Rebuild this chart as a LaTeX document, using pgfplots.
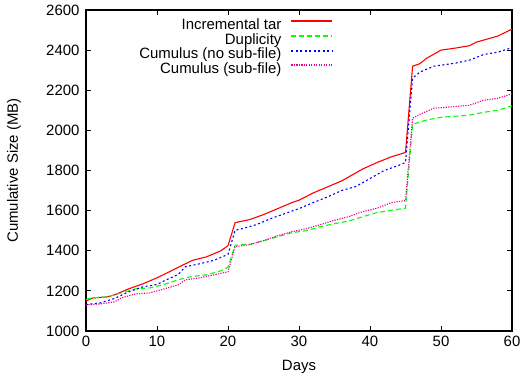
\documentclass[border=0pt]{standalone}
\usepackage{fontspec}
\setmainfont{Liberation Sans}
\usepackage{pgfplots}
\pgfplotsset{compat=1.18}
\begin{document}
\begin{tikzpicture}
\path[use as bounding box] (-86bp,-48bp) rectangle (437bp,331bp);
\begin{axis}[
  at={(0,0)}, anchor=south west,
  scale only axis, width=426bp, height=321bp,
  xmin=0, xmax=60, ymin=1000, ymax=2600,
  xtick={0,10,...,60}, ytick={1000,1200,...,2600},
  tick align=inside, major tick length=5bp,
  axis line style={line width=1.2pt},
  every tick/.style={black, line width=0.8pt},
  /pgf/number format/assume math mode=true,
  /pgf/number format/1000 sep={},
  tick label style={font=\fontsize{15}{15}\selectfont},
  label style={font=\fontsize{15}{15}\selectfont},
  xlabel={Days}, ylabel={Cumulative Size (MB)},
  xlabel style={at={(axis description cs:0.5,-0.112)}, anchor=center},
  ylabel style={at={(axis description cs:-0.169,0.5)}, anchor=center},
  xticklabel style={yshift=-2bp},
  yticklabel style={xshift=-3bp},
  legend style={at={(rel axis cs:0.581,0.972)}, anchor=north east, draw=none, fill=none,
     font=\fontsize{15}{15}\selectfont, inner sep=0pt,
     nodes={inner sep=0pt, text height=10.5pt, text depth=3pt},
     row sep=1.2pt, cells={anchor=east},
     /tikz/every odd column/.append style={column sep=9bp}},
  legend plot pos=right,
  legend image code/.code={\draw[#1, line width=1.9pt] (0bp,4.5bp) -- (41bp,4.5bp);},
  legend cell align=right,
]
\addplot[red, line width=1.1pt] coordinates {
(0,1150) (1,1165) (3,1170) (4,1180) (6,1210) (8,1235) (9,1250) (10,1265) (12,1300) (14,1335) (15,1352) (17,1370) (19,1400) (20,1425)
(21,1540) (23,1555) (25,1580) (27,1610) (29,1640) (30,1652) (32,1688) (34,1718) (36,1748) (37,1768) (39,1808) (41,1840) (43,1868) (45,1890)
(46,2320) (47,2332) (48,2360) (50,2400) (52,2410) (54,2422) (55,2440) (57,2460) (58,2470) (60,2505)};
\addlegendentry{Incremental tar}
\addplot[green, line width=1.1pt, dash pattern=on 5pt off 3pt] coordinates {
(0,1158) (1,1165) (3,1170) (5,1190) (6,1200) (7,1210) (9,1215) (11,1232) (13,1256) (15,1272) (17,1280) (19,1300) (20,1318)
(21,1428) (23,1432) (25,1450) (27,1470) (29,1490) (31,1500) (33,1520) (35,1535) (37,1548) (39,1570) (41,1590) (43,1602) (45,1612)
(46,2030) (48,2052) (50,2065) (54,2076) (56,2090) (58,2100) (60,2122)};
\addlegendentry{Duplicity}
\addplot[blue, line width=1.1pt, dash pattern=on 2pt off 2.5pt] coordinates {
(0,1132) (2,1140) (4,1162) (6,1195) (8,1220) (10,1232) (11,1250) (13,1282) (14,1320) (16,1335) (18,1352) (20,1382)
(21,1502) (22,1510) (24,1530) (26,1560) (28,1585) (30,1610) (32,1640) (34,1668) (36,1700) (38,1720) (40,1760) (42,1800) (44,1825) (45,1840)
(46,2260) (47,2290) (49,2320) (52,2335) (54,2350) (56,2378) (58,2390) (60,2412)};
\addlegendentry{Cumulus (no sub-file)}
\addplot[magenta, line width=1.1pt, dash pattern=on 1.2pt off 1.3pt] coordinates {
(0,1130) (2,1135) (4,1145) (5,1165) (7,1185) (9,1190) (11,1210) (13,1230) (14,1255) (16,1265) (18,1280) (20,1295)
(21,1420) (23,1430) (25,1450) (27,1475) (29,1495) (31,1510) (33,1530) (35,1552) (37,1570) (39,1595) (41,1612) (43,1640) (45,1650)
(46,2060) (47,2080) (49,2110) (54,2125) (56,2150) (58,2160) (60,2182)};
\addlegendentry{Cumulus (sub-file)}
\end{axis}
\end{tikzpicture}
\end{document}
